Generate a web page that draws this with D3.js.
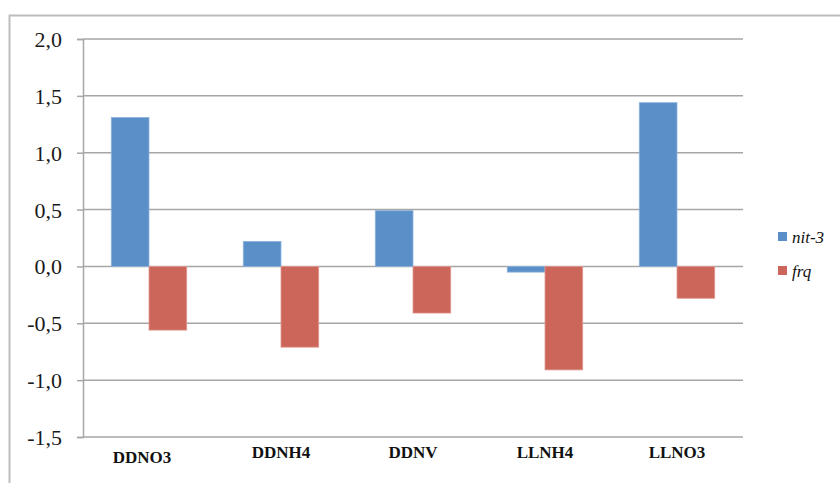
<!DOCTYPE html>
<html>
<head>
<meta charset="utf-8">
<script src="https://cdn.jsdelivr.net/npm/d3@7"></script>
<style>
  html, body { margin: 0; padding: 0; background: #fff; }
  svg { display: block; }
</style>
</head>
<body>
<svg id="chart" width="840" height="483"></svg>
<script>
// Relative expression per condition
const categories = ["DDNO3", "DDNH4", "DDNV", "LLNH4", "LLNO3"];
const seriesNames = ["nit-3", "frq"];
const nit3Values = [1.31, 0.22, 0.49, -0.05, 1.44];
const frqValues = [-0.56, -0.71, -0.41, -0.91, -0.28];
const yTicks = [-1.5, -1.0, -0.5, 0.0, 0.5, 1.0, 1.5, 2.0];
const seriesColors = ["#5a8fc7", "#cc655a"];
const seriesStrokes = ["#8cb2dc", "#e09a92"];

const svg = d3.select("#chart");
const W = 840, H = 483;
const plot = { left: 83, right: 743, top: 39, bottom: 437 };

// outer frame (left and top edges visible)
svg.append("path")
  .attr("d", `M9.5,${H} V15.5 H${W}`)
  .attr("fill", "none")
  .attr("stroke", "#bdbdbd")
  .attr("stroke-width", 2);

const x = d3.scaleBand().domain(categories).range([plot.left, plot.right]).padding(0);
const xs = d3.scaleBand().domain(seriesNames).range([0, x.bandwidth()])
  .paddingInner(0).paddingOuter(0.75);
const y = d3.scaleLinear().domain([-1.5, 2.0]).range([plot.bottom, plot.top]);

const fmt = v => d3.format(".1f")(v).replace(".", ",").replace("−", "-");

// horizontal gridlines
svg.append("g").selectAll("line").data(yTicks).join("line")
  .attr("x1", plot.left).attr("x2", plot.right)
  .attr("y1", d => y(d)).attr("y2", d => y(d))
  .attr("stroke", "#a6a6a6").attr("stroke-width", 1.5);

// y axis
const yAxis = d3.axisLeft(y).tickValues(yTicks).tickSize(6).tickPadding(15).tickFormat(fmt);
const gy = svg.append("g").attr("transform", `translate(${plot.left},0)`).call(yAxis);
gy.select(".domain").attr("stroke", "#a6a6a6").attr("stroke-width", 1.5);
gy.selectAll(".tick line").attr("stroke", "#a6a6a6").attr("stroke-width", 1.5);
gy.selectAll(".tick text")
  .attr("font-family", "'Liberation Serif', serif")
  .attr("font-size", 22)
  .attr("fill", "#1a1a1a")
  .attr("dy", "0.34em");

// bars
const rows = categories.map((c, i) => ({ cat: c, values: [nit3Values[i], frqValues[i]] }));
const groups = svg.append("g").selectAll("g").data(rows).join("g")
  .attr("transform", d => `translate(${x(d.cat)},0)`);
groups.selectAll("rect")
  .data(d => d.values.map((v, k) => ({ name: seriesNames[k], k, v })))
  .join("rect")
  .attr("x", d => xs(d.name))
  .attr("width", xs.bandwidth())
  .attr("y", d => y(Math.max(0, d.v)))
  .attr("height", d => Math.abs(y(d.v) - y(0)))
  .attr("fill", d => seriesColors[d.k])
  .attr("stroke", d => seriesStrokes[d.k])
  .attr("stroke-width", 0.8);

// category labels
svg.append("g").selectAll("text").data(categories).join("text")
  .attr("x", d => x(d) + x.bandwidth() / 2 - (d === "DDNO3" ? 7 : 0))
  .attr("y", d => d === "DDNO3" ? 463 : 458)
  .attr("text-anchor", "middle")
  .attr("font-family", "'Liberation Serif', serif")
  .attr("font-weight", "bold")
  .attr("font-size", 17)
  .attr("fill", "#111")
  .text(d => d);

// legend
const legend = svg.append("g").selectAll("g").data(seriesNames).join("g")
  .attr("transform", (d, i) => `translate(778,${232 + i * 34})`);
legend.append("rect")
  .attr("width", 9).attr("height", 9)
  .attr("fill", (d, i) => seriesColors[i]);
legend.append("text")
  .attr("x", 14).attr("y", 11)
  .attr("font-family", "'Liberation Serif', serif")
  .attr("font-style", "italic")
  .attr("font-size", 17)
  .attr("fill", "#111")
  .text(d => d);
</script>
</body>
</html>
